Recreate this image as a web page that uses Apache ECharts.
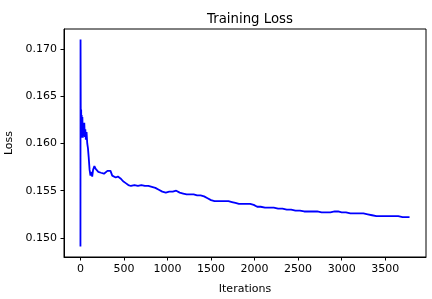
<!DOCTYPE html>
<html>
<head>
<meta charset="utf-8">
<script src="https://cdn.jsdelivr.net/npm/echarts@6/dist/echarts.min.js"></script>
<style>html,body{margin:0;padding:0;background:#fff}#c{width:432px;height:299px}</style>
</head>
<body>
<div id="c"></div>
<script>
const iterations = [0,1,3,5,8,11,14,18,22,27,32,38,44,50,56,62,70,78,86,95,105,115,125,135,145,160,175,190,205,220,235,250,270,290,310,330,345,365,385,405,430,460,490,520,550,580,620,660,700,740,780,820,860,900,940,980,1020,1060,1100,1140,1180,1220,1260,1300,1340,1380,1420,1460,1500,1540,1580,1620,1660,1700,1740,1780,1820,1860,1900,1950,1990,2030,2070,2120,2170,2220,2270,2320,2370,2420,2470,2520,2570,2620,2670,2720,2770,2820,2870,2920,2960,3000,3050,3100,3150,3200,3250,3300,3350,3400,3450,3500,3550,3600,3650,3700,3750,3780];
const loss = [0.1491,0.1710,0.1640,0.1608,0.1636,0.1606,0.1630,0.1612,0.1628,0.1606,0.1620,0.1608,0.1622,0.1607,0.1615,0.1604,0.1612,0.1600,0.1595,0.1585,0.1572,0.1566,0.1570,0.1565,0.1572,0.1576,0.1573,0.1572,0.1570,0.1571,0.1569,0.1570,0.1568,0.1569,0.1571,0.1573,0.1571,0.1566,0.1566,0.1564,0.1565,0.1563,0.1560,0.1558,0.1556,0.1555,0.1556,0.1555,0.1556,0.1555,0.1555,0.1554,0.1553,0.1551,0.1549,0.1548,0.1549,0.1549,0.1550,0.1548,0.1547,0.1546,0.1546,0.1546,0.1545,0.1545,0.1544,0.1542,0.1540,0.1539,0.1539,0.1539,0.1539,0.1539,0.1538,0.1537,0.1536,0.1536,0.1536,0.1536,0.1535,0.1533,0.1533,0.1532,0.1532,0.1532,0.1531,0.1531,0.1530,0.1530,0.1529,0.1529,0.1528,0.1528,0.1528,0.1528,0.1527,0.1527,0.1527,0.1528,0.1528,0.1527,0.1527,0.1526,0.1526,0.1526,0.1526,0.1525,0.1524,0.1523,0.1523,0.1523,0.1523,0.1523,0.1523,0.1522,0.1522,0.1522,0.1521];
const xTicks = [0,500,1000,1500,2000,2500,3000,3500];
const yTicks = [0.150,0.155,0.160,0.165,0.170];

const data = iterations.map((it,i)=>[it, loss[i]]);
const font = 'DejaVu Sans';
const chart = echarts.init(document.getElementById('c'), null, {renderer:'canvas'});
chart.setOption({
  animation:false,
  backgroundColor:'#fff',
  title:{text:'Training Loss', left:245, top:8, textAlign:'center',
    textStyle:{fontFamily:font, fontSize:13.3, fontWeight:'normal', color:'#000'}},
  grid:{left:64, right:6, top:29, bottom:42, show:true, borderColor:'#000', borderWidth:1,
    containLabel:false, outerBoundsMode:'none'},
  xAxis:{type:'value', min:-189, max:3969,
    name:'Iterations', nameLocation:'middle', nameGap:27,
    nameTextStyle:{fontFamily:font, fontSize:11, color:'#000'},
    axisLine:{show:true, onZero:false, lineStyle:{color:'#000', width:1}},
    axisTick:{show:true, length:3.5, customValues:xTicks, lineStyle:{color:'#000'}},
    axisLabel:{customValues:xTicks, margin:7, fontFamily:font, fontSize:11, color:'#000',
      formatter:v=>String(Math.round(v))},
    splitLine:{show:false}},
  yAxis:{type:'value', min:0.14798, max:0.17212,
    name:'Loss', nameLocation:'middle', nameGap:48, nameRotate:90,
    nameTextStyle:{fontFamily:font, fontSize:11, color:'#000'},
    axisLine:{show:true, onZero:false, lineStyle:{color:'#000', width:1}},
    axisTick:{show:true, length:3.5, customValues:yTicks, lineStyle:{color:'#000'}},
    axisLabel:{customValues:yTicks, margin:7, fontFamily:font, fontSize:11, color:'#000',
      formatter:v=>v.toFixed(3)},
    splitLine:{show:false}},
  series:[{type:'line', data:data, showSymbol:false, symbol:'none',
    lineStyle:{color:'#0000ff', width:1.8}, z:3}]
});
</script>
</body>
</html>
